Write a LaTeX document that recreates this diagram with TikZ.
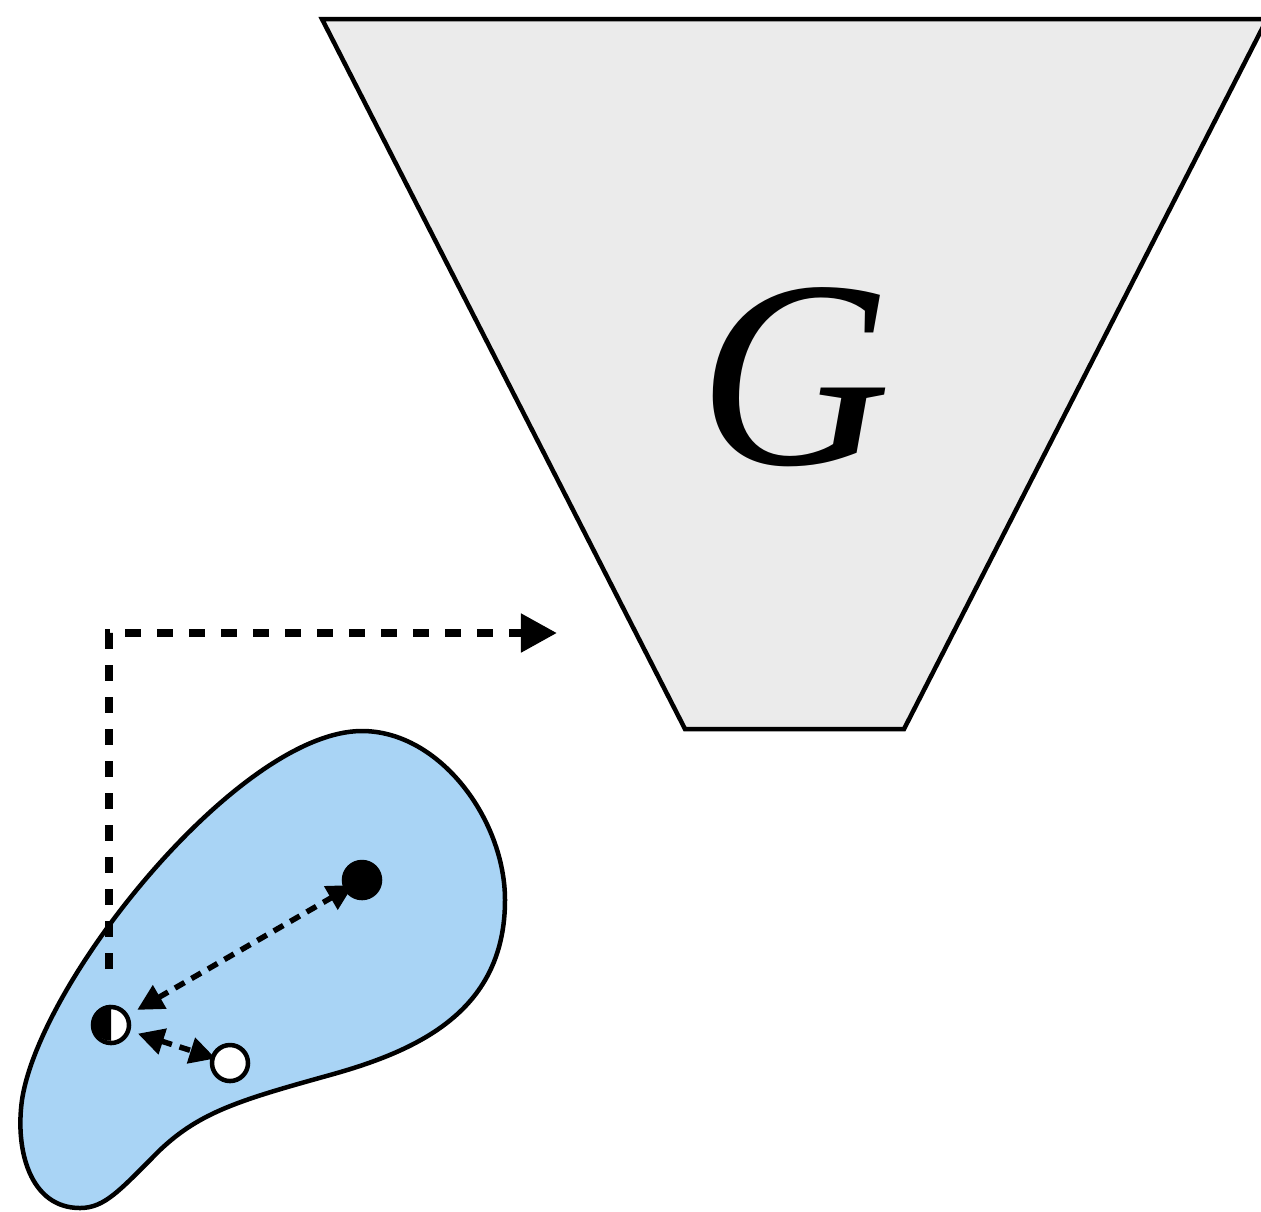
\documentclass[tikz,border=0pt]{standalone}
\usepackage{fontspec}
\setmainfont{Liberation Serif}
\usetikzlibrary{arrows.meta}
\pgfdeclarelayer{blob}
\pgfdeclarelayer{links}
\pgfsetlayers{blob,links,main}
\definecolor{genfill}{RGB}{235,235,235}
\definecolor{latentblue}{RGB}{169,212,245}

\begin{document}
\begin{tikzpicture}[
    x=0.01cm, y=-0.01cm,
    generator/.style={draw=black, line width=0.045cm, fill=genfill, line join=miter},
    region/.style={draw=black, line width=0.045cm, fill=latentblue},
    sample/.style={circle, draw=black, line width=0.045cm, inner sep=0pt, minimum size=0.36cm},
    full/.style={sample, fill=black},
    empty/.style={sample, fill=white},
    feed/.style={line width=0.08cm, dash pattern=on 0.16cm off 0.16cm, -{Triangle[length=0.36cm, width=0.37cm]}},
    pull/.style={line width=0.055cm, dash pattern=on 0.11cm off 0.08cm, {Triangle[length=0.26cm, width=0.26cm]}-{Triangle[length=0.26cm, width=0.26cm]}}
  ]
  \useasboundingbox (0,0) rectangle (1261,1211);

  % generator
  \draw[generator] (322,19) -- (1267,19) -- (904,729) -- (685,729) -- cycle;
  \node[font=\fontsize{76}{80}\selectfont\itshape, inner sep=0pt] (gen) at (795,377) {G};

  % latent region
  \begin{pgfonlayer}{blob}
  \draw[region] (362,731) .. controls (440,731) and (505,820) .. (505,900)
      .. controls (505,1010) and (420,1050) .. (330,1075)
      .. controls (240,1100) and (200,1112) .. (160,1150)
      .. controls (120,1190) and (105,1208) .. (80,1208)
      .. controls (30,1208) and (15,1150) .. (22,1100)
      .. controls (40,980) and (240,731) .. (362,731) -- cycle;
  \end{pgfonlayer}

  \node[full] (zreal) at (362,880) {};
  \node[empty] (zfake) at (230,1063) {};
  \node[empty] (zmix) at (111,1025) {};
  \fill (zmix.north) arc[start angle=90, end angle=270, radius=0.18cm] -- cycle;

  \begin{pgfonlayer}{links}
  \draw[pull, shorten <=0.1cm, shorten >=0.1cm] (zmix) -- (zreal.center);
  \draw[pull, shorten <=0.08cm, shorten >=0.15cm] (zmix) -- (zfake.center);
  \end{pgfonlayer}

  % into the generator
  \coordinate (feedstart) at (109,969);
  \coordinate (feedend) at (557,633);
  \draw[feed] (feedstart) |- (feedend);
\end{tikzpicture}
\end{document}
